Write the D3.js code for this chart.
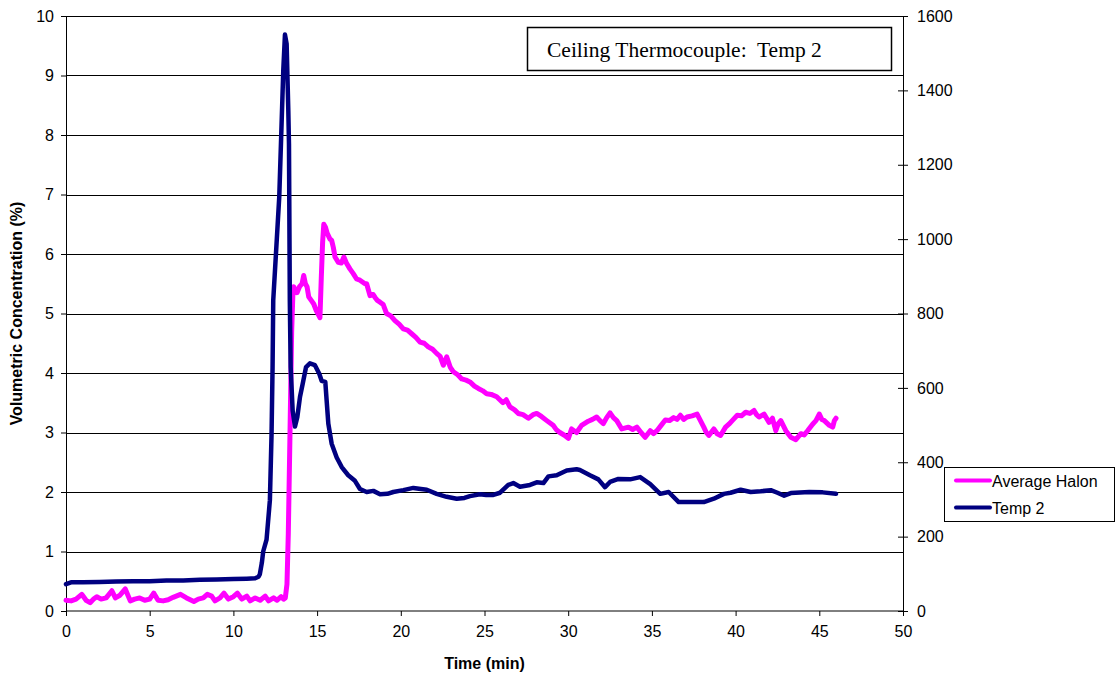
<!DOCTYPE html>
<html>
<head>
<meta charset="utf-8">
<script src="https://cdn.jsdelivr.net/npm/d3@7"></script>
<style>
  html, body { margin: 0; padding: 0; background: #fff; }
  svg { display: block; }
</style>
</head>
<body>
<svg id="chart" width="1119" height="677"></svg>
<script>
// ---------------- DATA ----------------
const chartTitle = "Ceiling Thermocouple:  Temp 2";
const xTitle = "Time (min)";
const yLeftTitle = "Volumetric Concentration (%)";
const seriesNames = ["Average Halon", "Temp 2"];

const xTicks = [0, 5, 10, 15, 20, 25, 30, 35, 40, 45, 50];
const yLeftTicks = [0, 1, 2, 3, 4, 5, 6, 7, 8, 9, 10];
const yRightTicks = [0, 200, 400, 600, 800, 1000, 1200, 1400, 1600];

// Average Halon (% by volume, left axis)
const haloTime = [0.0,0.3,0.6,0.94,1.2,1.44,1.65,1.84,2.1,2.4,2.74,2.95,3.2,3.54,3.84,4.1,4.4,4.7,5.0,5.24,5.5,5.8,6.1,6.4,6.84,7.2,7.64,7.9,8.2,8.44,8.7,8.9,9.2,9.44,9.7,10.0,10.24,10.5,10.8,11.0,11.3,11.6,11.9,12.1,12.4,12.6,12.85,13.0,13.1,13.2,13.28,13.38,13.48,13.55,13.6,13.7,13.8,13.95,14.1,14.2,14.3,14.4,14.5,14.65,14.8,14.95,15.1,15.17,15.25,15.33,15.4,15.5,15.6,15.77,15.87,15.97,16.07,16.27,16.45,16.6,16.75,16.96,17.16,17.36,17.56,17.86,17.96,18.16,18.35,18.46,18.6,18.76,18.95,19.15,19.4,19.65,19.9,20.15,20.4,20.65,20.9,21.15,21.4,21.64,21.9,22.14,22.35,22.54,22.74,22.95,23.14,23.4,23.64,23.9,24.13,24.4,24.63,24.9,25.13,25.4,25.73,26.1,26.3,26.52,26.8,27.02,27.3,27.62,27.9,28.12,28.4,28.72,29.1,29.31,29.5,29.8,30.01,30.2,30.5,30.8,31.2,31.45,31.7,31.9,32.1,32.3,32.5,32.7,32.9,33.2,33.6,33.85,34.1,34.35,34.6,34.9,35.1,35.3,35.55,35.8,36.05,36.3,36.5,36.7,36.9,37.1,37.4,37.7,37.9,38.1,38.25,38.4,38.7,38.9,39.1,39.4,39.6,39.8,40.1,40.35,40.6,40.85,41.1,41.25,41.4,41.7,42.0,42.2,42.4,42.55,42.7,43.0,43.3,43.6,43.9,44.1,44.3,44.6,44.8,45.0,45.15,45.3,45.6,45.8,45.9,46.0];
const haloValue = [0.18,0.17,0.2,0.28,0.18,0.14,0.2,0.24,0.2,0.22,0.34,0.22,0.26,0.37,0.17,0.2,0.22,0.18,0.2,0.3,0.18,0.17,0.19,0.23,0.28,0.22,0.16,0.2,0.22,0.28,0.25,0.17,0.22,0.3,0.2,0.24,0.3,0.2,0.25,0.17,0.22,0.18,0.25,0.17,0.22,0.18,0.24,0.2,0.22,0.45,1.3,2.98,4.7,5.3,5.45,5.4,5.35,5.45,5.5,5.64,5.5,5.45,5.28,5.22,5.16,5.05,4.97,4.93,5.6,6.2,6.5,6.45,6.35,6.25,6.23,6.11,5.95,5.86,5.85,5.95,5.85,5.75,5.67,5.58,5.56,5.5,5.5,5.3,5.32,5.27,5.22,5.19,5.15,5.0,4.96,4.88,4.82,4.74,4.72,4.66,4.6,4.52,4.5,4.44,4.4,4.33,4.28,4.13,4.27,4.1,4.02,3.97,3.9,3.88,3.85,3.78,3.74,3.7,3.65,3.64,3.6,3.5,3.55,3.43,3.38,3.32,3.3,3.24,3.3,3.32,3.27,3.2,3.12,3.04,3.0,2.95,2.9,3.06,3.0,3.12,3.19,3.22,3.26,3.2,3.15,3.25,3.33,3.25,3.2,3.06,3.09,3.05,3.09,3.0,2.92,3.03,2.98,3.03,3.12,3.21,3.2,3.25,3.22,3.29,3.22,3.26,3.28,3.31,3.2,3.09,3.0,2.95,3.06,2.98,2.95,3.09,3.14,3.2,3.29,3.28,3.34,3.32,3.37,3.3,3.26,3.31,3.17,3.24,3.03,3.15,3.2,3.03,2.92,2.88,2.98,2.96,3.03,3.14,3.2,3.31,3.22,3.2,3.12,3.09,3.2,3.24];

// Temp 2 (right axis)
const tempTime = [0.0,0.3,1,2,3,4,5,6,7,8,9,10,10.8,11.3,11.5,11.58,11.7,11.78,11.98,12.18,12.28,12.34,12.38,12.74,12.98,13.08,13.18,13.28,13.32,13.37,13.42,13.54,13.68,13.82,13.98,14.14,14.34,14.57,14.87,15.13,15.27,15.49,15.57,15.67,15.87,16.17,16.47,16.86,17.26,17.56,17.96,18.36,18.76,19.2,19.55,20.15,20.75,21.2,21.55,22.14,22.74,23.34,23.8,24.13,24.73,25.1,25.53,25.93,26.42,26.72,27.12,27.72,28.12,28.52,28.82,29.31,29.91,30.5,30.7,31.3,31.8,32.2,32.5,33.0,33.7,34.3,34.9,35.5,36.0,36.6,37.3,38.1,38.7,39.3,39.7,40.3,40.9,41.5,42.1,42.5,42.9,43.3,44.4,45.2,46.0];
const tempValue = [72,77,77,78,79,80,80,82,82,84,85,86,87,88,92,99,130,160,192,298,477,656,835,1114,1454,1550,1525,1346,1256,835,656,539,496,522,576,611,656,666,661,638,619,616,566,504,450,413,387,365,350,328,320,323,314,315,320,325,331,328,326,315,307,302,304,309,314,312,312,318,339,344,334,339,346,344,362,365,378,381,379,365,354,333,347,355,354,360,341,315,320,293,293,293,302,315,318,326,320,322,325,318,310,317,320,319,315];

// ---------------- LAYOUT ----------------
(function () {
const svg = d3.select("#chart");
const pL = 66, pR = 903, pT = 16, pB = 611;
const font = "Arial, 'Liberation Sans', sans-serif";
const haloColor = "#ff00ff", tempColor = "#000080";

const x = d3.scaleLinear().domain([0, 50]).range([pL, pR]);
const yL = d3.scaleLinear().domain([0, 10]).range([pB, pT]);
const yR = d3.scaleLinear().domain([0, 1600]).range([pB, pT]);

// gridlines
svg.append("g").selectAll("line").data(yLeftTicks.filter(d => d > 0)).join("line")
  .attr("x1", pL).attr("x2", pR)
  .attr("y1", d => Math.round(yL(d)) + 0.5).attr("y2", d => Math.round(yL(d)) + 0.5)
  .attr("stroke", "#000").attr("stroke-width", 1);

// left axis
const gL = svg.append("g").attr("transform", `translate(${pL},0)`)
  .call(d3.axisLeft(yL).tickValues(yLeftTicks).tickSize(5).tickPadding(7).tickFormat(d3.format("d")));
// right axis
const gR = svg.append("g").attr("transform", `translate(${pR},0)`)
  .call(d3.axisRight(yR).tickValues(yRightTicks).tickSize(5).tickPadding(9).tickFormat(d3.format("d")));
gR.selectAll(".tick line").attr("x1", -5);
// bottom axis
const gB = svg.append("g").attr("transform", `translate(0,${pB})`)
  .call(d3.axisBottom(x).tickValues(xTicks).tickSize(5).tickPadding(10).tickFormat(d3.format("d")));

[gL, gR, gB].forEach(g => {
  g.select(".domain").attr("stroke", "#000").attr("stroke-width", 1);
  g.selectAll(".tick line").attr("stroke", "#000");
  g.selectAll("text").attr("font-family", font).attr("font-size", 16).attr("fill", "#000");
});
gB.select(".domain").attr("d", `M${pL},0H${pR}`);

// series
const haloData = haloTime.map((t, i) => [t, haloValue[i]]);
const tempData = tempTime.map((t, i) => [t, tempValue[i]]);

svg.append("path").datum(haloData)
  .attr("fill", "none").attr("stroke", haloColor).attr("stroke-width", 5)
  .attr("stroke-linejoin", "round").attr("stroke-linecap", "round")
  .attr("d", d3.line().x(d => x(d[0])).y(d => yL(d[1])));

svg.append("path").datum(tempData)
  .attr("fill", "none").attr("stroke", tempColor).attr("stroke-width", 4.5)
  .attr("stroke-linejoin", "round").attr("stroke-linecap", "round")
  .attr("d", d3.line().x(d => x(d[0])).y(d => yR(d[1])));

// axis titles
svg.append("text").attr("x", (pL + pR) / 2).attr("y", 669)
  .attr("text-anchor", "middle").attr("font-family", font).attr("font-size", 16)
  .attr("font-weight", "bold").text(xTitle);
svg.append("text").attr("transform", `translate(22,${(pT + pB) / 2}) rotate(-90)`)
  .attr("text-anchor", "middle").attr("font-family", font).attr("font-size", 16)
  .attr("font-weight", "bold").text(yLeftTitle);

// title box
svg.append("rect").attr("x", 527.5).attr("y", 27.5).attr("width", 364).attr("height", 43)
  .attr("fill", "#fff").attr("stroke", "#000").attr("stroke-width", 1.5);
svg.append("text").attr("x", 547).attr("y", 57)
  .attr("font-family", "'Times New Roman', 'Liberation Serif', serif").attr("font-size", 21.5)
  .attr("xml:space", "preserve").style("white-space", "pre").text(chartTitle);

// legend
const lg = svg.append("g");
lg.append("rect").attr("x", 944.5).attr("y", 467.5).attr("width", 170).attr("height", 54)
  .attr("fill", "#fff").attr("stroke", "#000").attr("stroke-width", 1);
const legendColors = [haloColor, tempColor];
seriesNames.forEach((name, i) => {
  const cy = 480.5 + i * 27;
  lg.append("line").attr("x1", 956).attr("x2", 990).attr("y1", cy).attr("y2", cy)
    .attr("stroke", legendColors[i]).attr("stroke-width", 4).attr("stroke-linecap", "round");
  lg.append("text").attr("x", 992).attr("y", cy + 6)
    .attr("font-family", font).attr("font-size", 16).text(name);
});
})();
</script>
</body>
</html>
